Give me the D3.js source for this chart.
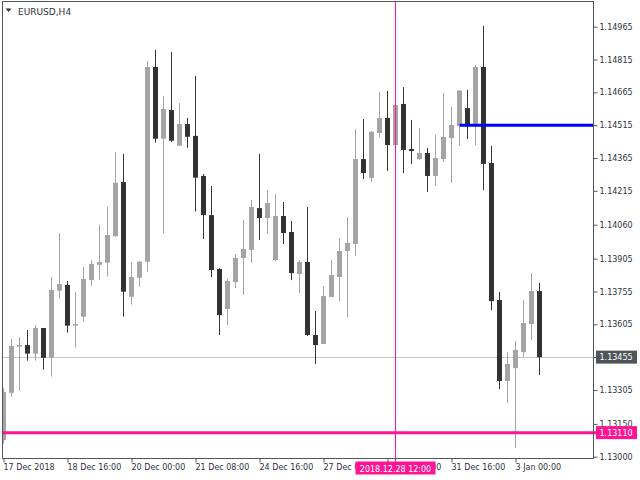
<!DOCTYPE html>
<html><head><meta charset="utf-8">
<script src="https://cdn.jsdelivr.net/npm/d3@7"></script>
<style>html,body{margin:0;padding:0;background:#fff;} svg{display:block;font-family:"DejaVu Sans",sans-serif;}</style>
</head><body><svg id="c" width="640" height="480"></svg>
<script>
const symbol = "EURUSD,H4";
const opens  = [1.13076,1.13292,1.13503,1.13510,1.13471,1.13588,1.13452,1.13759,1.13785,1.13599,
                1.13640,1.13807,1.13877,1.13887,1.14008,1.14255,1.13731,1.13818,1.13891,1.14781,
                1.14453,1.14584,1.14421,1.14520,1.14466,1.14283,1.14104,1.13858,1.13675,1.13798,
                1.13908,1.13945,1.14136,1.14091,1.13899,1.14100,1.14027,1.13835,1.13890,1.13556,
                1.13515,1.13730,1.13821,1.13940,1.13972,1.14360,1.14274,1.14479,1.14548,1.14424,
                1.14612,1.14406,1.14360,1.14388,1.14283,1.14360,1.14456,1.14511,1.14593,1.14516,
                1.14781,1.14342,1.13716,1.13346,1.13405,1.13478,1.13606,1.13757];
const highs  = [1.13315,1.13538,1.13547,1.13579,1.13602,1.13588,1.13821,1.14022,1.13803,1.13753,
                1.13867,1.13899,1.14060,1.14141,1.14392,1.14383,1.13890,1.13894,1.14808,1.14859,
                1.14648,1.14849,1.14616,1.14548,1.14740,1.14292,1.14237,1.13861,1.13812,1.13926,
                1.14082,1.14173,1.14383,1.14219,1.14200,1.14164,1.14077,1.13899,1.14141,1.13666,
                1.13780,1.13899,1.13999,1.14095,1.14498,1.14543,1.14488,1.14667,1.14671,1.14726,
                1.14689,1.14539,1.14502,1.14411,1.14470,1.14662,1.14598,1.14676,1.14676,1.14790,
                1.14968,1.14420,1.13753,1.13478,1.13529,1.13716,1.13839,1.13794];
const lows   = [1.13061,1.13274,1.13302,1.13439,1.13439,1.13398,1.13366,1.13722,1.13567,1.13498,
                1.13617,1.13781,1.13809,1.13823,1.14005,1.13640,1.13695,1.13777,1.13845,1.14435,
                1.14021,1.14438,1.14421,1.14412,1.14120,1.13995,1.13821,1.13556,1.13602,1.13771,
                1.13739,1.13885,1.13990,1.14018,1.13894,1.13972,1.13807,1.13748,1.13552,1.13424,
                1.13515,1.13730,1.13711,1.13638,1.13917,1.14269,1.14255,1.14461,1.14306,1.14379,
                1.14296,1.14338,1.14356,1.14210,1.14237,1.14347,1.14251,1.14420,1.14452,1.14424,
                1.14219,1.13670,1.13309,1.13245,1.13040,1.13456,1.13533,1.13373];
const closes = [1.13296,1.13506,1.13510,1.13471,1.13588,1.13452,1.13762,1.13789,1.13599,1.13606,
                1.13812,1.13881,1.13890,1.14013,1.14252,1.13754,1.13821,1.13891,1.14781,1.14453,
                1.14589,1.14444,1.14520,1.14462,1.14275,1.14104,1.13853,1.13647,1.13803,1.13908,
                1.13949,1.14141,1.14091,1.14159,1.14100,1.14022,1.13839,1.13890,1.13556,1.13510,
                1.13734,1.13830,1.13940,1.13977,1.14360,1.14296,1.14485,1.14548,1.14424,1.14607,
                1.14402,1.14397,1.14388,1.14283,1.14365,1.14461,1.14516,1.14673,1.14516,1.14781,
                1.14338,1.13711,1.13346,1.13424,1.13488,1.13611,1.13757,1.13455];
const tickIdx    = [0,8,16,24,32,40,48,56,64];
const tickLabels = ["17 Dec 2018","18 Dec 16:00","20 Dec 00:00","21 Dec 08:00","24 Dec 16:00",
                    "27 Dec 00:00","28 Dec 08:00","31 Dec 16:00","3 Jan 00:00"];
const yTicks = [1.14965,1.14815,1.14665,1.14515,1.14365,1.14215,1.14060,1.13905,1.13755,
                1.13605,1.13455,1.13305,1.13150,1.13000];
const bidPrice  = 1.13455;
const levelPink = 1.13110;
const levelBlue = 1.14515;
const blueStart = 57;
const crossIdx  = 49;
const crossLabel = "2018.12.28 12:00";

const bullCol = "#a4a4a4", bearCol = "#333333", pink = "#ff1493", textCol = "#2e333a", frameCol = "#50565c";
const candles = opens.map((o,i)=>({i, o, h:highs[i], l:lows[i], c:closes[i]}));

const svg = d3.select("#c");
const L=2.5, R=593.5, T=1.5, B=458.5;
const x = d3.scaleLinear().domain([0,67]).range([3.5,539.5]);
const y = d3.scaleLinear().domain([1.13000,1.14965]).range([456.7,26.7]);

svg.append("defs").append("clipPath").attr("id","clip")
  .append("rect").attr("x",3).attr("y",2).attr("width",590).attr("height",456);
const plot = svg.append("g").attr("clip-path","url(#clip)");

// bid line (under candles)
plot.append("line").attr("x1",3).attr("x2",593)
  .attr("y1",Math.round(y(bidPrice))+0.5).attr("y2",Math.round(y(bidPrice))+0.5)
  .attr("stroke","#c8c8c8").attr("stroke-width",1);
// crosshair vertical (under candles)
svg.append("line").attr("x1",x(crossIdx)).attr("x2",x(crossIdx)).attr("y1",2).attr("y2",463)
  .attr("stroke",pink).attr("stroke-width",1);

// candles
const g = plot.selectAll("g.cd").data(candles).enter().append("g");
g.append("rect")
  .attr("x",d=>x(d.i)-0.5).attr("width",1)
  .attr("y",d=>y(d.h)).attr("height",d=>Math.max(1,y(d.l)-y(d.h)))
  .attr("fill",d=>d.c>=d.o?bullCol:bearCol);
g.append("rect")
  .attr("x",d=>x(d.i)-2.5).attr("width",5)
  .attr("y",d=>y(Math.max(d.o,d.c))).attr("height",d=>Math.max(1.5,Math.abs(y(d.o)-y(d.c))))
  .attr("fill",d=>d.c>=d.o?bullCol:bearCol);

// level lines (over candles)
svg.append("line").attr("x1",3).attr("x2",596)
  .attr("y1",y(levelPink)).attr("y2",y(levelPink))
  .attr("stroke",pink).attr("stroke-width",3);
svg.append("line").attr("x1",x(blueStart)).attr("x2",594)
  .attr("y1",y(levelBlue)).attr("y2",y(levelBlue))
  .attr("stroke","#0000ff").attr("stroke-width",3);
svg.append("line").attr("x1",593).attr("x2",596)
  .attr("y1",Math.round(y(bidPrice))+0.5).attr("y2",Math.round(y(bidPrice))+0.5)
  .attr("stroke","#c8c8c8");

// frame
svg.append("rect").attr("x",L).attr("y",T).attr("width",R-L).attr("height",B-T)
  .attr("fill","none").attr("stroke",frameCol).attr("stroke-width",1);

// y axis
const yAx = svg.append("g").attr("transform",`translate(${R},0)`)
  .call(d3.axisRight(y).tickValues(yTicks).tickFormat(d3.format(".5f")).tickSize(4).tickPadding(2));
yAx.select(".domain").remove();
yAx.selectAll("line").attr("stroke",frameCol);
yAx.selectAll("text").attr("fill",textCol).style("font-size","8px").style("font-family","DejaVu Sans");

// x axis
const xAx = svg.append("g").attr("transform",`translate(0,${B})`)
  .call(d3.axisBottom(x).tickValues(tickIdx).tickFormat((d,i)=>tickLabels[i]).tickSize(4).tickPadding(2));
xAx.select(".domain").remove();
xAx.selectAll("line").attr("stroke",frameCol);
xAx.selectAll("text").attr("text-anchor","start").attr("dx",-0.5).attr("y",6).attr("dy","0.71em")
  .attr("fill",textCol).style("font-size","8px").style("font-family","DejaVu Sans");

// price label boxes
function priceBox(v, bg){
  const yy = y(v);
  svg.append("rect").attr("x",596).attr("y",yy-6.5).attr("width",41).attr("height",13).attr("fill",bg);
  svg.append("text").attr("x",599.5).attr("y",yy+3).attr("fill","#fff")
    .style("font-size","8px").text(d3.format(".5f")(v));
}
priceBox(bidPrice,"#50555b");
priceBox(levelPink,pink);

// crosshair date label
const cx = x(crossIdx);
svg.append("rect").attr("x",cx-40).attr("y",461.5).attr("width",80).attr("height",13).attr("fill",pink);
svg.append("text").attr("x",cx).attr("y",471.5).attr("text-anchor","middle").attr("fill","#fff")
  .style("font-size","8px").text(crossLabel);

// title
svg.append("path").attr("d","M5.5,8.5 L11.5,8.5 L8.5,12 Z").attr("fill","#333");
svg.append("text").attr("x",18).attr("y",15).attr("fill",textCol).style("font-size","9px").text(symbol);
</script></body></html>
